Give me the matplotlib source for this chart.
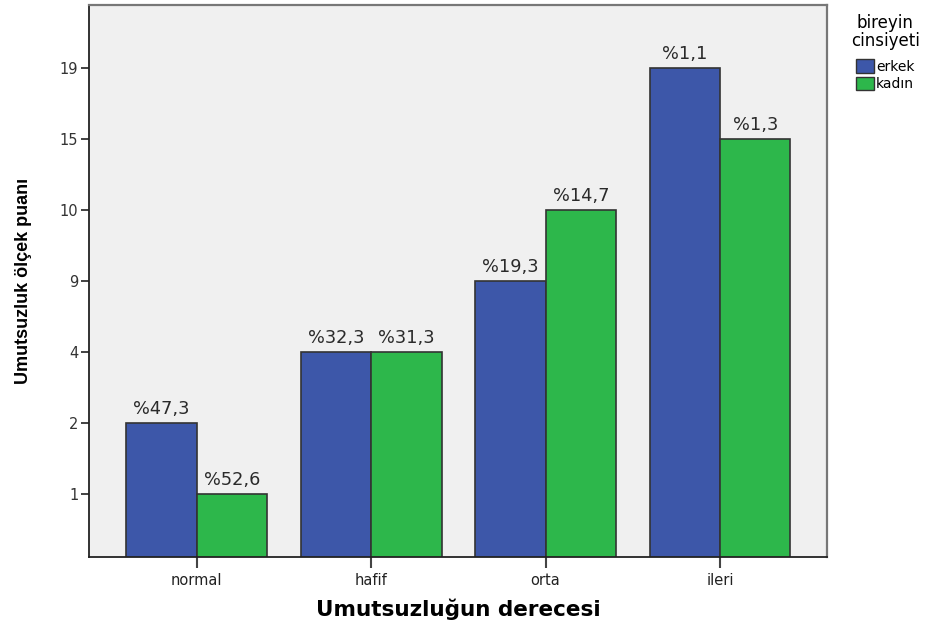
import numpy as np
import matplotlib.pyplot as plt
from matplotlib.patches import Patch

# data
categories = ["normal", "hafif", "orta", "ileri"]
ytick_labels = [1, 2, 4, 9, 10, 15, 19]   # the axis is not linear: ticks are evenly spaced
erkek_vals = [2, 4, 9, 19]
kadin_vals = [1, 4, 10, 15]
erkek_pct = ["%47,3", "%32,3", "%19,3", "%1,1"]
kadin_pct = ["%52,6", "%31,3", "%14,7", "%1,3"]

blue = "#3D57A9"
green = "#2DB74B"
edge = "#333333"

# map each value to its slot on the evenly spaced axis
def ypos(v):
    return ytick_labels.index(v) + 1

fig = plt.figure(figsize=(9.32, 6.2), dpi=100)
ax = fig.add_axes([89.3/932, 1-557.3/620, (826.7-89.3)/932, (557.3-5)/620])
ax.set_facecolor("#F0F0F0")

x = np.arange(len(categories))
w = 0.404
h1 = [ypos(v) for v in erkek_vals]
h2 = [ypos(v) for v in kadin_vals]
b1 = ax.bar(x - w/2, h1, w, color=blue, edgecolor=edge, linewidth=1.2, zorder=2)
b2 = ax.bar(x + w/2, h2, w, color=green, edgecolor=edge, linewidth=1.2, zorder=2)

for bars, labs in ((b1, erkek_pct), (b2, kadin_pct)):
    for b, t in zip(bars, labs):
        ax.text(b.get_x() + b.get_width()/2, b.get_height() + 0.07, t,
                ha="center", va="bottom", fontsize=12.8, color="#2a2a2a")

ax.set_xlim(-0.616, 3.612)
ax.set_ylim(0.11, 7.89)
ax.set_yticks(range(1, len(ytick_labels) + 1))
ax.set_yticklabels([str(v) for v in ytick_labels])
ax.set_xticks(x)
ax.set_xticklabels(categories)
ax.tick_params(axis="y", length=6, width=1.3, color="#333333", labelsize=10.5,
               labelcolor="#333333", pad=2)
ax.tick_params(axis="x", length=8, width=1.5, color="#444444", labelsize=10.5,
               labelcolor="#222222", pad=3)

for s in ("left", "bottom"):
    ax.spines[s].set_color("#222222")
    ax.spines[s].set_linewidth(1.3)
for s in ("top", "right"):
    ax.spines[s].set_color("#777777")
    ax.spines[s].set_linewidth(1.6)

ax.set_xlabel("Umutsuzluğun derecesi", fontsize=15.5, fontweight="bold", labelpad=8)
ax.set_ylabel("Umutsuzluk ölçek puanı", fontsize=13, fontweight="bold",
              family=["Liberation Sans", "DejaVu Sans"], labelpad=20)

handles = [Patch(facecolor=blue, edgecolor=edge, label="erkek"),
           Patch(facecolor=green, edgecolor=edge, label="kadın")]
leg = fig.legend(handles=handles, title="bireyin\ncinsiyeti", loc="upper left",
                 bbox_to_anchor=(841/932, 1 - 4/620), frameon=False, fontsize=10,
                 title_fontsize=12, handlelength=1.3, handleheight=1.1,
                 handletextpad=0.15, labelspacing=0.2, borderpad=0.2)
leg.get_title().set_multialignment("center")
leg.get_title().set_linespacing(1.0)
leg._legend_box.sep = 7

fig.savefig("out.png", dpi=100)
